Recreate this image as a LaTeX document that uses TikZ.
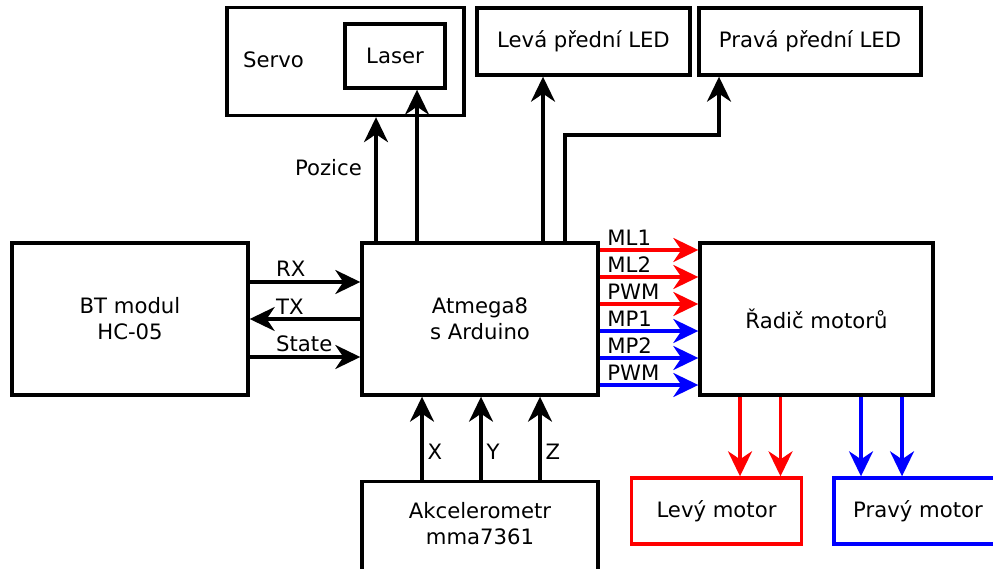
\documentclass[tikz,border=0pt]{standalone}
\usepackage{fontspec}
\setmainfont{DejaVu Sans}
\usetikzlibrary{arrows.meta, positioning, calc}
\tikzset{
  block/.style={rectangle, draw=black, line width=3.4pt, fill=white, inner sep=0pt, align=center},
  block_red/.style={block, draw=red},
  block_blue/.style={block, draw=blue},
  arrow/.style={-{Stealth[length=25pt, width=24pt, inset=8pt]}, line width=3.4pt},
  sig_label/.style={inner sep=1pt}
}

\begin{document}
\begin{tikzpicture}[
    x=1pt, y=-1pt,
    font=\fontsize{21.2}{26}\selectfont
]
\useasboundingbox (0,0) rectangle (993,569);

    % 1. Top row: servo, laser and headlights
    \node[block, minimum width=237pt, minimum height=108pt] (servo_box) at (345.5,61.5) {};
    \node[anchor=west, inner sep=0pt] (servo_txt) at (243,60) {Servo};
    \node[block, minimum width=100pt, minimum height=64pt] (laser_box) at (395,56) {Laser};
    \node[block, minimum width=213pt, minimum height=67pt] (levaled_box) at (583.5,41.5) {Levá přední LED};
    \node[block, minimum width=222pt, minimum height=67pt] (pravaled_box) at (810,41.5) {Pravá přední LED};

    % 2. Middle row
    \node[block, minimum width=236pt, minimum height=152pt] (bt_box) at (130,319) {BT modul\\HC-05};
    \node[block, minimum width=236pt, minimum height=152pt] (mcu_box) at (480,319) {Atmega8\\s Arduino};
    \node[block, minimum width=233pt, minimum height=152pt] (driver_box) at (816.5,319) {Řadič motorů};

    % 3. Bottom row
    \node[block, anchor=north, minimum width=236pt, minimum height=152pt] (accel_box) at (480,480) {};
    \node[align=center, inner sep=0pt] (accel_txt) at (480,524) {Akcelerometr\\mma7361};
    \node[block_red, minimum width=170pt, minimum height=66pt] (levy_box) at (716.5,511) {Levý motor};
    \node[block_blue, minimum width=168pt, minimum height=66pt] (pravy_box) at (918,511) {Pravý motor};

    % 4. Arrows to the top row
    \draw[arrow] ([xshift=-104pt]mcu_box.north) -- ([xshift=-104pt]mcu_box.north |- servo_box.south);
    \node[anchor=east, inner sep=0pt] (pos_txt) at (362,168) {Pozice};
    \draw[arrow] ([xshift=-63pt]mcu_box.north) -- ([xshift=-63pt]mcu_box.north |- laser_box.south);
    \draw[arrow] ([xshift=63pt]mcu_box.north) -- ([xshift=63pt]mcu_box.north |- levaled_box.south);
    \coordinate (led_bend) at (719,135);
    \draw[arrow] ([xshift=85pt]mcu_box.north) |- (led_bend) -- (led_bend |- pravaled_box.south);

    % 5. Serial link to BT module
    \draw[arrow] ([yshift=37pt]bt_box.east) -- ([yshift=37pt]bt_box.east -| mcu_box.west);
    \draw[arrow] (mcu_box.west) -- (mcu_box.west -| bt_box.east);
    \draw[arrow] ([yshift=-38pt]bt_box.east) -- ([yshift=-38pt]bt_box.east -| mcu_box.west);
    \node[anchor=base west, inner sep=0pt] (rx_txt) at (276,277) {RX};
    \node[anchor=base west, inner sep=0pt] (tx_txt) at (276,314) {TX};
    \node[anchor=base west, inner sep=0pt] (state_txt) at (276,351) {State};

    % 6. Motor driver signals
    \foreach \dy/\col/\name [count=\i] in {69/red/ML1, 42/red/ML2, 15/red/PWM, -12/blue/MP1, -39/blue/MP2, -66/blue/PWM} {
        \draw[arrow, draw=\col] ([yshift=\dy pt]mcu_box.east) -- ([yshift=\dy pt]mcu_box.east -| driver_box.west)
            node[pos=0, sig_label, anchor=south west, xshift=5pt, yshift=2pt] (sig_\i) {\name};
    }

    % 7. Driver to motors
    \foreach \dx in {-76.5, -36} {
        \draw[arrow, draw=red] ([xshift=\dx pt]driver_box.south) -- ([xshift=\dx pt]driver_box.south |- levy_box.north);
    }
    \foreach \dx in {44.5, 85.5} {
        \draw[arrow, draw=blue] ([xshift=\dx pt]driver_box.south) -- ([xshift=\dx pt]driver_box.south |- pravy_box.north);
    }

    % 8. Accelerometer axes
    \foreach \dx/\axis in {-58/X, 1/Y, 60/Z} {
        \draw[arrow] ([xshift=\dx pt]accel_box.north) -- ([xshift=\dx pt]accel_box.north |- mcu_box.south)
            node[pos=0.34, sig_label, anchor=west, xshift=3pt] (axis_\axis) {\axis};
    }

\end{tikzpicture}
\end{document}
